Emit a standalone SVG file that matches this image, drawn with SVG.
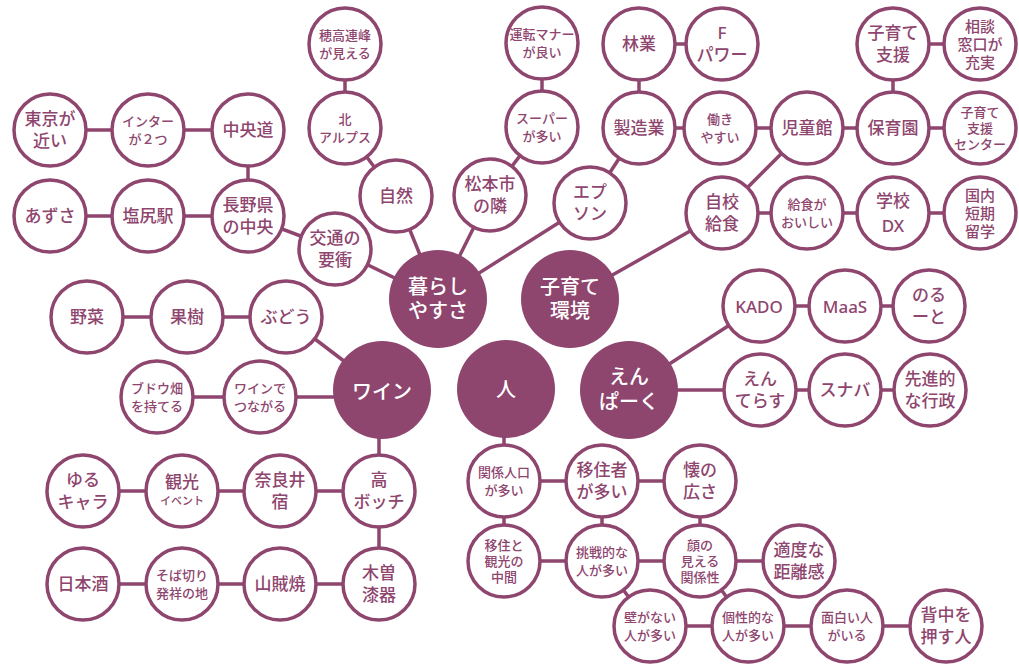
<svg xmlns="http://www.w3.org/2000/svg" width="1019" height="667" viewBox="0 0 1019 667">
<style>
.c line{stroke:#8E456E;stroke-width:3.5}
.n circle{fill:#fff;stroke:#8E456E;stroke-width:3.5}
.b circle{fill:#8E456E}
text{font-family:"Liberation Sans","Noto Sans CJK JP",sans-serif;text-anchor:middle;dominant-baseline:central;font-weight:500}
.n text{fill:#8E456E}
.b text{fill:#fff;font-size:20px}
.L{font-size:17px}.M{font-size:15px}.S{font-size:13px}.X{font-size:11px}
.lat{font-family:"Noto Sans","Noto Sans CJK JP",sans-serif}
</style>
<rect width="1019" height="667" fill="#fff"/>
<g id="connectors" class="c">
<line x1="50" y1="130" x2="148" y2="130"/>
<line x1="148" y1="130" x2="248" y2="130"/>
<line x1="248" y1="130" x2="248" y2="216"/>
<line x1="50" y1="216" x2="148" y2="216"/>
<line x1="148" y1="216" x2="248" y2="216"/>
<line x1="248" y1="216" x2="335" y2="249"/>
<line x1="335" y1="249" x2="438" y2="299"/>
<line x1="345" y1="44" x2="345" y2="128"/>
<line x1="345" y1="128" x2="396" y2="196"/>
<line x1="396" y1="196" x2="438" y2="299"/>
<line x1="542" y1="43" x2="542" y2="127"/>
<line x1="542" y1="127" x2="490" y2="195"/>
<line x1="490" y1="195" x2="438" y2="299"/>
<line x1="438" y1="299" x2="590" y2="203"/>
<line x1="590" y1="203" x2="639" y2="128"/>
<line x1="639" y1="44" x2="639" y2="128"/>
<line x1="639" y1="44" x2="722" y2="44"/>
<line x1="639" y1="128" x2="720" y2="128"/>
<line x1="720" y1="128" x2="807" y2="128"/>
<line x1="807" y1="128" x2="893" y2="128"/>
<line x1="893" y1="128" x2="980" y2="128"/>
<line x1="893" y1="128" x2="893" y2="44"/>
<line x1="893" y1="44" x2="980" y2="44"/>
<line x1="807" y1="128" x2="722" y2="213"/>
<line x1="722" y1="213" x2="807" y2="213"/>
<line x1="807" y1="213" x2="893" y2="213"/>
<line x1="893" y1="213" x2="980" y2="213"/>
<line x1="570" y1="299" x2="722" y2="213"/>
<line x1="629" y1="390" x2="759" y2="306"/>
<line x1="759" y1="306" x2="845" y2="306"/>
<line x1="845" y1="306" x2="929" y2="306"/>
<line x1="629" y1="390" x2="760" y2="390"/>
<line x1="760" y1="390" x2="845" y2="390"/>
<line x1="845" y1="390" x2="930" y2="390"/>
<line x1="87" y1="317" x2="187" y2="317"/>
<line x1="187" y1="317" x2="286" y2="317"/>
<line x1="286" y1="317" x2="382" y2="390"/>
<line x1="157" y1="397" x2="260" y2="397"/>
<line x1="260" y1="397" x2="382" y2="397"/>
<line x1="379" y1="390" x2="379" y2="491"/>
<line x1="83" y1="491" x2="182" y2="491"/>
<line x1="182" y1="491" x2="280" y2="491"/>
<line x1="280" y1="491" x2="379" y2="491"/>
<line x1="379" y1="491" x2="379" y2="584"/>
<line x1="83" y1="584" x2="182" y2="584"/>
<line x1="182" y1="584" x2="280" y2="584"/>
<line x1="280" y1="584" x2="379" y2="584"/>
<line x1="504" y1="389" x2="504" y2="481"/>
<line x1="504" y1="481" x2="602" y2="481"/>
<line x1="602" y1="481" x2="700" y2="481"/>
<line x1="504" y1="481" x2="504" y2="561"/>
<line x1="602" y1="481" x2="602" y2="561"/>
<line x1="700" y1="481" x2="700" y2="561"/>
<line x1="504" y1="561" x2="602" y2="561"/>
<line x1="602" y1="561" x2="700" y2="561"/>
<line x1="700" y1="561" x2="799" y2="561"/>
<line x1="602" y1="561" x2="650" y2="626"/>
<line x1="700" y1="561" x2="748" y2="626"/>
<line x1="650" y1="626" x2="748" y2="626"/>
<line x1="748" y1="626" x2="847" y2="626"/>
<line x1="847" y1="626" x2="946" y2="626"/>
</g>
<g id="kurashi" class="b"><circle cx="438" cy="299" r="49"/><text><tspan x="438" y="287">暮らし</tspan><tspan x="438" y="311">やすさ</tspan></text></g>
<g id="kosodate-kankyo" class="b"><circle cx="570" cy="299" r="49"/><text><tspan x="570" y="287">子育て</tspan><tspan x="570" y="311">環境</tspan></text></g>
<g id="wine" class="b"><circle cx="382" cy="390" r="49"/><text x="382" y="392">ワイン</text></g>
<g id="hito" class="b"><circle cx="506" cy="389" r="49"/><text x="506" y="390">人</text></g>
<g id="enpark" class="b"><circle cx="629" cy="390" r="49"/><text><tspan x="629" y="377">えん</tspan><tspan x="629" y="402">ぱーく</tspan></text></g>

<g id="tokyo" class="n"><circle cx="50" cy="130" r="36"/><text class="L"><tspan x="50" y="119">東京が</tspan><tspan x="50" y="141">近い</tspan></text></g>
<g id="inter" class="n"><circle cx="148" cy="130" r="36"/><text class="S"><tspan x="148" y="121">インター</tspan><tspan x="148" y="139">が２つ</tspan></text></g>
<g id="chuodo" class="n"><circle cx="248" cy="130" r="36"/><text class="L" x="248" y="130">中央道</text></g>
<g id="azusa" class="n"><circle cx="50" cy="216" r="36"/><text class="L" x="50" y="216">あずさ</text></g>
<g id="shiojiri" class="n"><circle cx="148" cy="216" r="36"/><text class="L" x="148" y="216">塩尻駅</text></g>
<g id="nagano" class="n"><circle cx="248" cy="216" r="36"/><text class="L"><tspan x="248" y="205">長野県</tspan><tspan x="248" y="227">の中央</tspan></text></g>
<g id="kotsu" class="n"><circle cx="335" cy="249" r="36"/><text class="L"><tspan x="335" y="238">交通の</tspan><tspan x="335" y="260">要衝</tspan></text></g>
<g id="hotaka" class="n"><circle cx="345" cy="44" r="36"/><text class="S"><tspan x="345" y="35">穂高連峰</tspan><tspan x="345" y="53">が見える</tspan></text></g>
<g id="kitaalps" class="n"><circle cx="345" cy="128" r="36"/><text class="S"><tspan x="345" y="119">北</tspan><tspan x="345" y="137">アルプス</tspan></text></g>
<g id="shizen" class="n"><circle cx="396" cy="196" r="36"/><text class="L" x="396" y="196">自然</text></g>
<g id="unten" class="n"><circle cx="542" cy="43" r="36"/><text class="S"><tspan x="542" y="34">運転マナー</tspan><tspan x="542" y="52">が良い</tspan></text></g>
<g id="super" class="n"><circle cx="542" cy="127" r="36"/><text class="S"><tspan x="542" y="118">スーパー</tspan><tspan x="542" y="136">が多い</tspan></text></g>
<g id="matsumoto" class="n"><circle cx="490" cy="195" r="36"/><text class="L"><tspan x="490" y="184">松本市</tspan><tspan x="490" y="206">の隣</tspan></text></g>
<g id="epson" class="n"><circle cx="590" cy="203" r="36"/><text class="L"><tspan x="590" y="192">エプ</tspan><tspan x="590" y="214">ソン</tspan></text></g>
<g id="ringyo" class="n"><circle cx="639" cy="44" r="36"/><text class="L" x="639" y="44">林業</text></g>
<g id="fpower" class="n"><circle cx="722" cy="44" r="36"/><text class="L"><tspan class="lat" x="722" y="32">F</tspan><tspan x="722" y="55">パワー</tspan></text></g>
<g id="seizo" class="n"><circle cx="639" cy="128" r="36"/><text class="L" x="639" y="128">製造業</text></g>
<g id="hataraki" class="n"><circle cx="720" cy="128" r="36"/><text class="S"><tspan x="720" y="119">働き</tspan><tspan x="720" y="137">やすい</tspan></text></g>
<g id="jidokan" class="n"><circle cx="807" cy="128" r="36"/><text class="L" x="807" y="128">児童館</text></g>
<g id="hoikuen" class="n"><circle cx="893" cy="128" r="36"/><text class="L" x="893" y="128">保育園</text></g>
<g id="kosodate-shien" class="n"><circle cx="893" cy="44" r="36"/><text class="L"><tspan x="893" y="33">子育て</tspan><tspan x="893" y="55">支援</tspan></text></g>
<g id="sodan" class="n"><circle cx="980" cy="44" r="36"/><text class="M"><tspan x="980" y="26">相談</tspan><tspan x="980" y="44">窓口が</tspan><tspan x="980" y="62">充実</tspan></text></g>
<g id="shien-center" class="n"><circle cx="980" cy="128" r="36"/><text class="S"><tspan x="980" y="112">子育て</tspan><tspan x="980" y="128">支援</tspan><tspan x="980" y="144">センター</tspan></text></g>
<g id="jiko" class="n"><circle cx="722" cy="213" r="36"/><text class="L"><tspan x="722" y="202">自校</tspan><tspan x="722" y="224">給食</tspan></text></g>
<g id="kyushoku" class="n"><circle cx="807" cy="213" r="36"/><text class="S"><tspan x="807" y="204">給食が</tspan><tspan x="807" y="222">おいしい</tspan></text></g>
<g id="gakkodx" class="n"><circle cx="893" cy="213" r="36"/><text class="L"><tspan x="893" y="201">学校</tspan><tspan class="lat" x="893" y="225">DX</tspan></text></g>
<g id="kokunai" class="n"><circle cx="980" cy="213" r="36"/><text class="M"><tspan x="980" y="195">国内</tspan><tspan x="980" y="213">短期</tspan><tspan x="980" y="231">留学</tspan></text></g>

<g id="kado" class="n"><circle cx="759" cy="306" r="36"/><text class="L lat" x="759" y="306">KADO</text></g>
<g id="maas" class="n"><circle cx="845" cy="306" r="36"/><text class="L lat" x="845" y="306">MaaS</text></g>
<g id="noruto" class="n"><circle cx="929" cy="306" r="36"/><text class="L"><tspan x="929" y="295">のる</tspan><tspan x="929" y="317">ーと</tspan></text></g>
<g id="enterasu" class="n"><circle cx="760" cy="390" r="36"/><text class="L"><tspan x="760" y="379">えん</tspan><tspan x="760" y="401">てらす</tspan></text></g>
<g id="sunaba" class="n"><circle cx="845" cy="390" r="36"/><text class="L" x="845" y="390">スナバ</text></g>
<g id="senshin" class="n"><circle cx="930" cy="390" r="36"/><text class="L"><tspan x="930" y="379">先進的</tspan><tspan x="930" y="401">な行政</tspan></text></g>

<g id="yasai" class="n"><circle cx="87" cy="317" r="36"/><text class="L" x="87" y="317">野菜</text></g>
<g id="kaju" class="n"><circle cx="187" cy="317" r="36"/><text class="L" x="187" y="317">果樹</text></g>
<g id="budou" class="n"><circle cx="286" cy="317" r="36"/><text class="L" x="286" y="317">ぶどう</text></g>
<g id="budoubatake" class="n"><circle cx="157" cy="397" r="36"/><text class="S"><tspan x="157" y="388">ブドウ畑</tspan><tspan x="157" y="406">を持てる</tspan></text></g>
<g id="winede" class="n"><circle cx="260" cy="397" r="36"/><text class="S"><tspan x="260" y="388">ワインで</tspan><tspan x="260" y="406">つながる</tspan></text></g>

<g id="yurukyara" class="n"><circle cx="83" cy="491" r="36"/><text class="L"><tspan x="83" y="480">ゆる</tspan><tspan x="83" y="502">キャラ</tspan></text></g>
<g id="kanko" class="n"><circle cx="182" cy="491" r="36"/><text><tspan class="L" x="182" y="482">観光</tspan><tspan class="X" x="182" y="501">イベント</tspan></text></g>
<g id="narai" class="n"><circle cx="280" cy="491" r="36"/><text class="L"><tspan x="280" y="480">奈良井</tspan><tspan x="280" y="502">宿</tspan></text></g>
<g id="takabotchi" class="n"><circle cx="379" cy="491" r="36"/><text class="L"><tspan x="379" y="480">高</tspan><tspan x="379" y="502">ボッチ</tspan></text></g>
<g id="nihonshu" class="n"><circle cx="83" cy="584" r="36"/><text class="L" x="83" y="584">日本酒</text></g>
<g id="sobakiri" class="n"><circle cx="182" cy="584" r="36"/><text class="S"><tspan x="182" y="575">そば切り</tspan><tspan x="182" y="593">発祥の地</tspan></text></g>
<g id="sanzokuyaki" class="n"><circle cx="280" cy="584" r="36"/><text class="L" x="280" y="584">山賊焼</text></g>
<g id="kisoshikki" class="n"><circle cx="379" cy="584" r="36"/><text class="L"><tspan x="379" y="573">木曽</tspan><tspan x="379" y="595">漆器</tspan></text></g>

<g id="kankei" class="n"><circle cx="504" cy="481" r="36"/><text class="S"><tspan x="504" y="472">関係人口</tspan><tspan x="504" y="490">が多い</tspan></text></g>
<g id="ijusha" class="n"><circle cx="602" cy="481" r="36"/><text class="L"><tspan x="602" y="470">移住者</tspan><tspan x="602" y="492">が多い</tspan></text></g>
<g id="futokoro" class="n"><circle cx="700" cy="481" r="36"/><text class="L"><tspan x="700" y="470">懐の</tspan><tspan x="700" y="492">広さ</tspan></text></g>
<g id="iju-kanko" class="n"><circle cx="504" cy="561" r="36"/><text class="S"><tspan x="504" y="545">移住と</tspan><tspan x="504" y="561">観光の</tspan><tspan x="504" y="577">中間</tspan></text></g>
<g id="chosen" class="n"><circle cx="602" cy="561" r="36"/><text class="S"><tspan x="602" y="552">挑戦的な</tspan><tspan x="602" y="570">人が多い</tspan></text></g>
<g id="kao" class="n"><circle cx="700" cy="561" r="36"/><text class="S"><tspan x="700" y="545">顔の</tspan><tspan x="700" y="561">見える</tspan><tspan x="700" y="577">関係性</tspan></text></g>
<g id="tekido" class="n"><circle cx="799" cy="561" r="36"/><text class="L"><tspan x="799" y="550">適度な</tspan><tspan x="799" y="572">距離感</tspan></text></g>
<g id="kabe" class="n"><circle cx="650" cy="626" r="36"/><text class="S"><tspan x="650" y="617">壁がない</tspan><tspan x="650" y="635">人が多い</tspan></text></g>
<g id="kosei" class="n"><circle cx="748" cy="626" r="36"/><text class="S"><tspan x="748" y="617">個性的な</tspan><tspan x="748" y="635">人が多い</tspan></text></g>
<g id="omoshiroi" class="n"><circle cx="847" cy="626" r="36"/><text class="S"><tspan x="847" y="617">面白い人</tspan><tspan x="847" y="635">がいる</tspan></text></g>
<g id="senaka" class="n"><circle cx="946" cy="626" r="36"/><text class="L"><tspan x="946" y="615">背中を</tspan><tspan x="946" y="637">押す人</tspan></text></g>
</svg>
